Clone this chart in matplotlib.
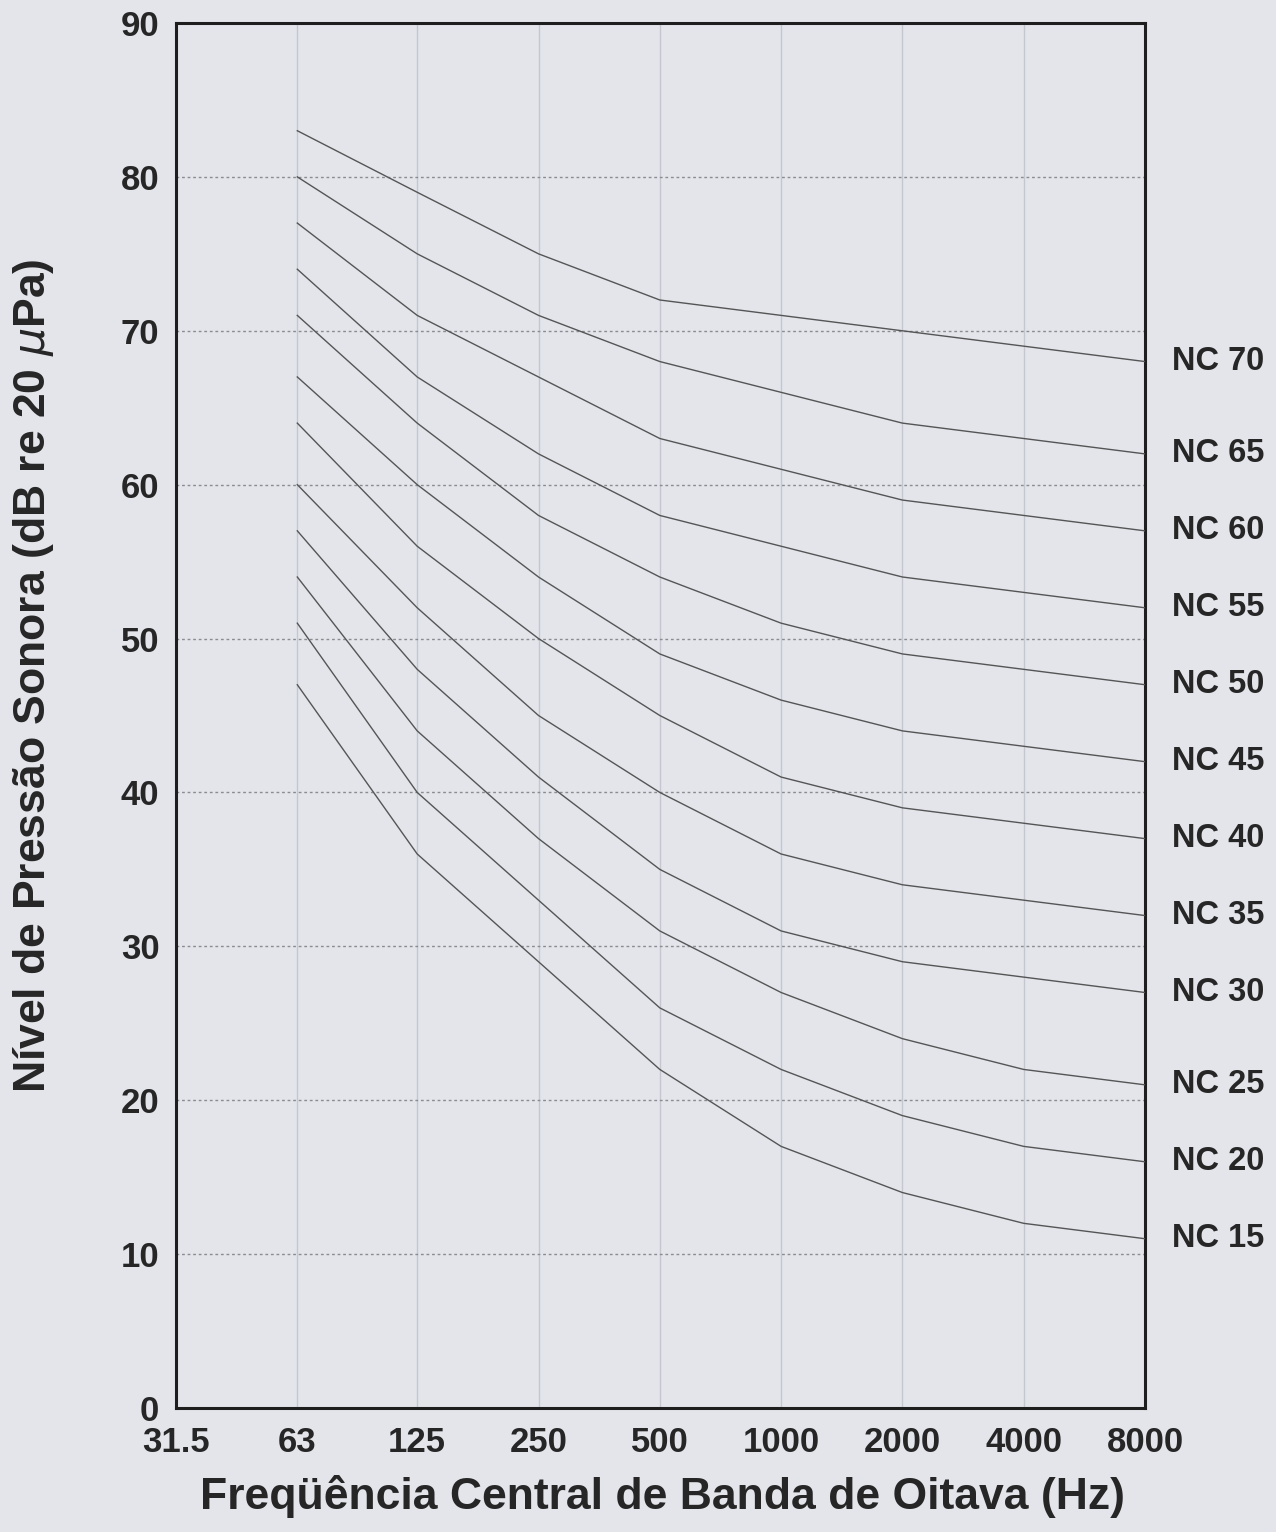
import matplotlib
matplotlib.use("Agg")
import matplotlib.pyplot as plt
import numpy as np

plt.rcParams['font.family'] = ['Liberation Sans', 'DejaVu Sans']

freq_labels = ["31.5", "63", "125", "250", "500", "1000", "2000", "4000", "8000"]
freqs = [31.5, 63, 125, 250, 500, 1000, 2000, 4000, 8000]
curve_freqs = [63, 125, 250, 500, 1000, 2000, 4000, 8000]

nc15 = [47, 36, 29, 22, 17, 14, 12, 11]
nc20 = [51, 40, 33, 26, 22, 19, 17, 16]
nc25 = [54, 44, 37, 31, 27, 24, 22, 21]
nc30 = [57, 48, 41, 35, 31, 29, 28, 27]
nc35 = [60, 52, 45, 40, 36, 34, 33, 32]
nc40 = [64, 56, 50, 45, 41, 39, 38, 37]
nc45 = [67, 60, 54, 49, 46, 44, 43, 42]
nc50 = [71, 64, 58, 54, 51, 49, 48, 47]
nc55 = [74, 67, 62, 58, 56, 54, 53, 52]
nc60 = [77, 71, 67, 63, 61, 59, 58, 57]
nc65 = [80, 75, 71, 68, 66, 64, 63, 62]
nc70 = [83, 79, 75, 72, 71, 70, 69, 68]

curves = [("NC 15", nc15), ("NC 20", nc20), ("NC 25", nc25), ("NC 30", nc30),
          ("NC 35", nc35), ("NC 40", nc40), ("NC 45", nc45), ("NC 50", nc50),
          ("NC 55", nc55), ("NC 60", nc60), ("NC 65", nc65), ("NC 70", nc70)]

y_ticks = [0, 10, 20, 30, 40, 50, 60, 70, 80, 90]

bg = "#e3e5eb"
txt = "#262626"

fig = plt.figure(figsize=(12.76, 15.32), dpi=100, facecolor=bg)
ax = fig.add_axes([176/1276, 1 - 1408/1532, (1145-176)/1276, (1408-23)/1532])
ax.set_facecolor(bg)

ax.set_xscale('log', base=2)
ax.set_xlim(31.5, 8000)
ax.set_ylim(0, 90)

for f in freqs[1:-1]:
    ax.axvline(f, color="#c4c7cf", lw=1.0, zorder=1)
for yv in y_ticks[1:-1]:
    ax.axhline(yv, color="#8a8c92", lw=1.0, ls=(0, (2, 2)), zorder=1)

for name, vals in curves:
    ax.plot(curve_freqs, vals, color="#555555", lw=1.0, zorder=3)
    ax.annotate(name, xy=(1.0, vals[-1]), xycoords=('axes fraction', 'data'),
                xytext=(27, 0), textcoords='offset pixels',
                fontsize=23.5, fontweight='bold', color=txt,
                va='center', ha='left', annotation_clip=False)

ax.set_xticks(freqs)
ax.set_xticklabels(freq_labels)
ax.minorticks_off()
ax.set_yticks(y_ticks)
ax.tick_params(axis='both', length=0, labelsize=25, colors=txt)
ax.tick_params(axis='x', pad=13)
ax.tick_params(axis='y', pad=12)
for lab in ax.get_xticklabels() + ax.get_yticklabels():
    lab.set_fontweight('bold')

for s in ax.spines.values():
    s.set_linewidth(2.2)
    s.set_color("#1e1e1e")

fig.text(662/1276, 1 - 1497/1532, "Freqüência Central de Banda de Oitava (Hz)",
         fontsize=32, fontweight='bold', color=txt, ha='center', va='center')
fig.text(34/1276, 1 - 676/1532, "Nível de Pressão Sonora (dB re 20 $\\mu$Pa)",
         fontsize=32, fontweight='bold', color=txt, ha='center', va='center',
         rotation=90)

fig.savefig("out.png", dpi=100, facecolor=bg)
